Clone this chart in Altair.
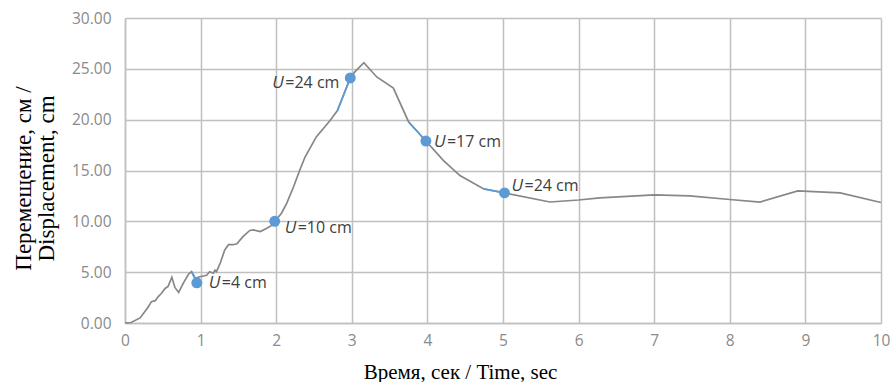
import altair as alt
import pandas as pd

# main displacement curve
time_s = [0, 0.08, 0.2, 0.3, 0.35, 0.4, 0.44, 0.48, 0.53, 0.57, 0.62, 0.66, 0.71, 0.77,
          0.84, 0.88, 0.93, 0.99, 1.08, 1.12, 1.17, 1.19, 1.21, 1.26, 1.32, 1.37, 1.43,
          1.48, 1.56, 1.65, 1.70, 1.79, 1.87, 1.94, 1.98, 2.07, 2.14, 2.23, 2.31, 2.38,
          2.53, 2.71, 2.81, 2.98, 3.04, 3.16, 3.33, 3.55, 3.75, 3.98, 4.21, 4.43, 4.74,
          5.02, 5.62, 6.0, 6.28, 7.0, 7.47, 8.0, 8.4, 8.9, 9.46, 10.0]
disp_cm = [0, 0.05, 0.5, 1.5, 2.1, 2.2, 2.6, 2.9, 3.4, 3.6, 4.5, 3.5, 3.0, 3.9,
           4.8, 5.05, 4.4, 4.55, 4.7, 5.05, 4.9, 5.2, 5.05, 5.9, 7.2, 7.7, 7.7,
           7.8, 8.5, 9.1, 9.15, 9.0, 9.3, 9.6, 10.0, 10.8, 11.8, 13.4, 15.0, 16.3,
           18.3, 19.9, 20.9, 24.1, 24.7, 25.6, 24.2, 23.1, 19.8, 17.9, 16.0, 14.5, 13.2,
           12.8, 11.9, 12.1, 12.3, 12.6, 12.5, 12.15, 11.9, 13.0, 12.8, 11.85]

# highlighted points
mark_t = [0.95, 1.98, 2.98, 3.98, 5.02]
mark_v = [3.95, 10.0, 24.1, 17.9, 12.8]
mark_lbl = ["=4 cm", "=10 cm", "=24 cm", "=17 cm", "=24 cm"]

# blue segments leading into each highlighted point
seg_id = [1, 1, 2, 2, 2, 3, 3, 4, 4, 5, 5]
seg_t = [0.88, 0.95, 1.94, 1.98, 2.03, 2.81, 2.98, 3.75, 3.98, 4.74, 5.02]
seg_v = [5.05, 3.95, 9.6, 10.0, 10.4, 20.9, 24.1, 19.8, 17.9, 13.2, 12.8]

y_ticks = [0, 5, 10, 15, 20, 25, 30]
x_ticks = list(range(0, 11))

line_df = pd.DataFrame({"t": time_s, "v": disp_cm})
seg_df = pd.DataFrame({"seg": seg_id, "t": seg_t, "v": seg_v})
pts_df = pd.DataFrame({"t": mark_t, "v": mark_v, "lbl": mark_lbl})

xs = alt.Scale(domain=[0, 10], nice=False)
ys = alt.Scale(domain=[0, 30], nice=False)

x_enc = alt.X("t:Q", scale=xs, axis=alt.Axis(
    values=x_ticks, format="d", title="Время, сек / Time, sec",
    titleX=335, titleY=38, titleAnchor="middle", titleFontSize=21))
y_enc = alt.Y("v:Q", scale=ys, axis=alt.Axis(
    values=y_ticks, format=".2f",
    title=["Перемещение, см /", "Displacement, cm"],
    titleAngle=-90, titleX=-113, titleY=160, titleAlign="center",
    titleBaseline="top", titleLineHeight=23, titleFontSize=23))

grey = alt.Chart(line_df).mark_line(color="#878787", strokeWidth=1.7).encode(
    x=x_enc, y=y_enc)

blue = alt.Chart(seg_df).mark_line(color="#5b9bd5", strokeWidth=1.7).encode(
    x="t:Q", y="v:Q", detail="seg:N")

pts = alt.Chart(pts_df).mark_circle(color="#5b9bd5", opacity=1, size=120).encode(
    x="t:Q", y="v:Q")

# label offsets (dx, dy) per highlighted point, and width of italic U
offs = [(12, 0), (10, 7), (-78, 5), (8, 1), (7, -7)]
u_w = 13

layers = [grey, blue, pts]
for i, (dx, dy) in enumerate(offs):
    sub = pts_df.iloc[[i]]
    layers.append(alt.Chart(sub).mark_text(
        text="U", font="Open Sans", fontStyle="italic", fontSize=17, color="#404040",
        align="left", baseline="middle", dx=dx, dy=dy).encode(x="t:Q", y="v:Q"))
    layers.append(alt.Chart(sub).mark_text(
        font="Open Sans", fontSize=16, color="#404040",
        align="left", baseline="middle", dx=dx + u_w, dy=dy).encode(
        x="t:Q", y="v:Q", text="lbl:N"))

chart = alt.layer(*layers).properties(
    width=756, height=305,
    autosize=alt.AutoSizeParams(type="none"),
    padding={"left": 125, "top": 18, "right": 11, "bottom": 59},
).configure_view(stroke=None).configure_axis(
    grid=True, gridColor="#c0c0c0", gridWidth=1.5,
    domainColor="#c0c0c0", domainWidth=1.5, ticks=False, labelFlush=False,
    labelFont="Open Sans", labelFontSize=15.5, labelColor="#8a8a8a",
    titleFont="Liberation Serif", titleFontWeight="normal",
    titleColor="#000000",
).configure_axisX(labelPadding=10).configure_axisY(labelPadding=14)

chart.save("out.html", embed_options={"renderer": "svg", "actions": False})
